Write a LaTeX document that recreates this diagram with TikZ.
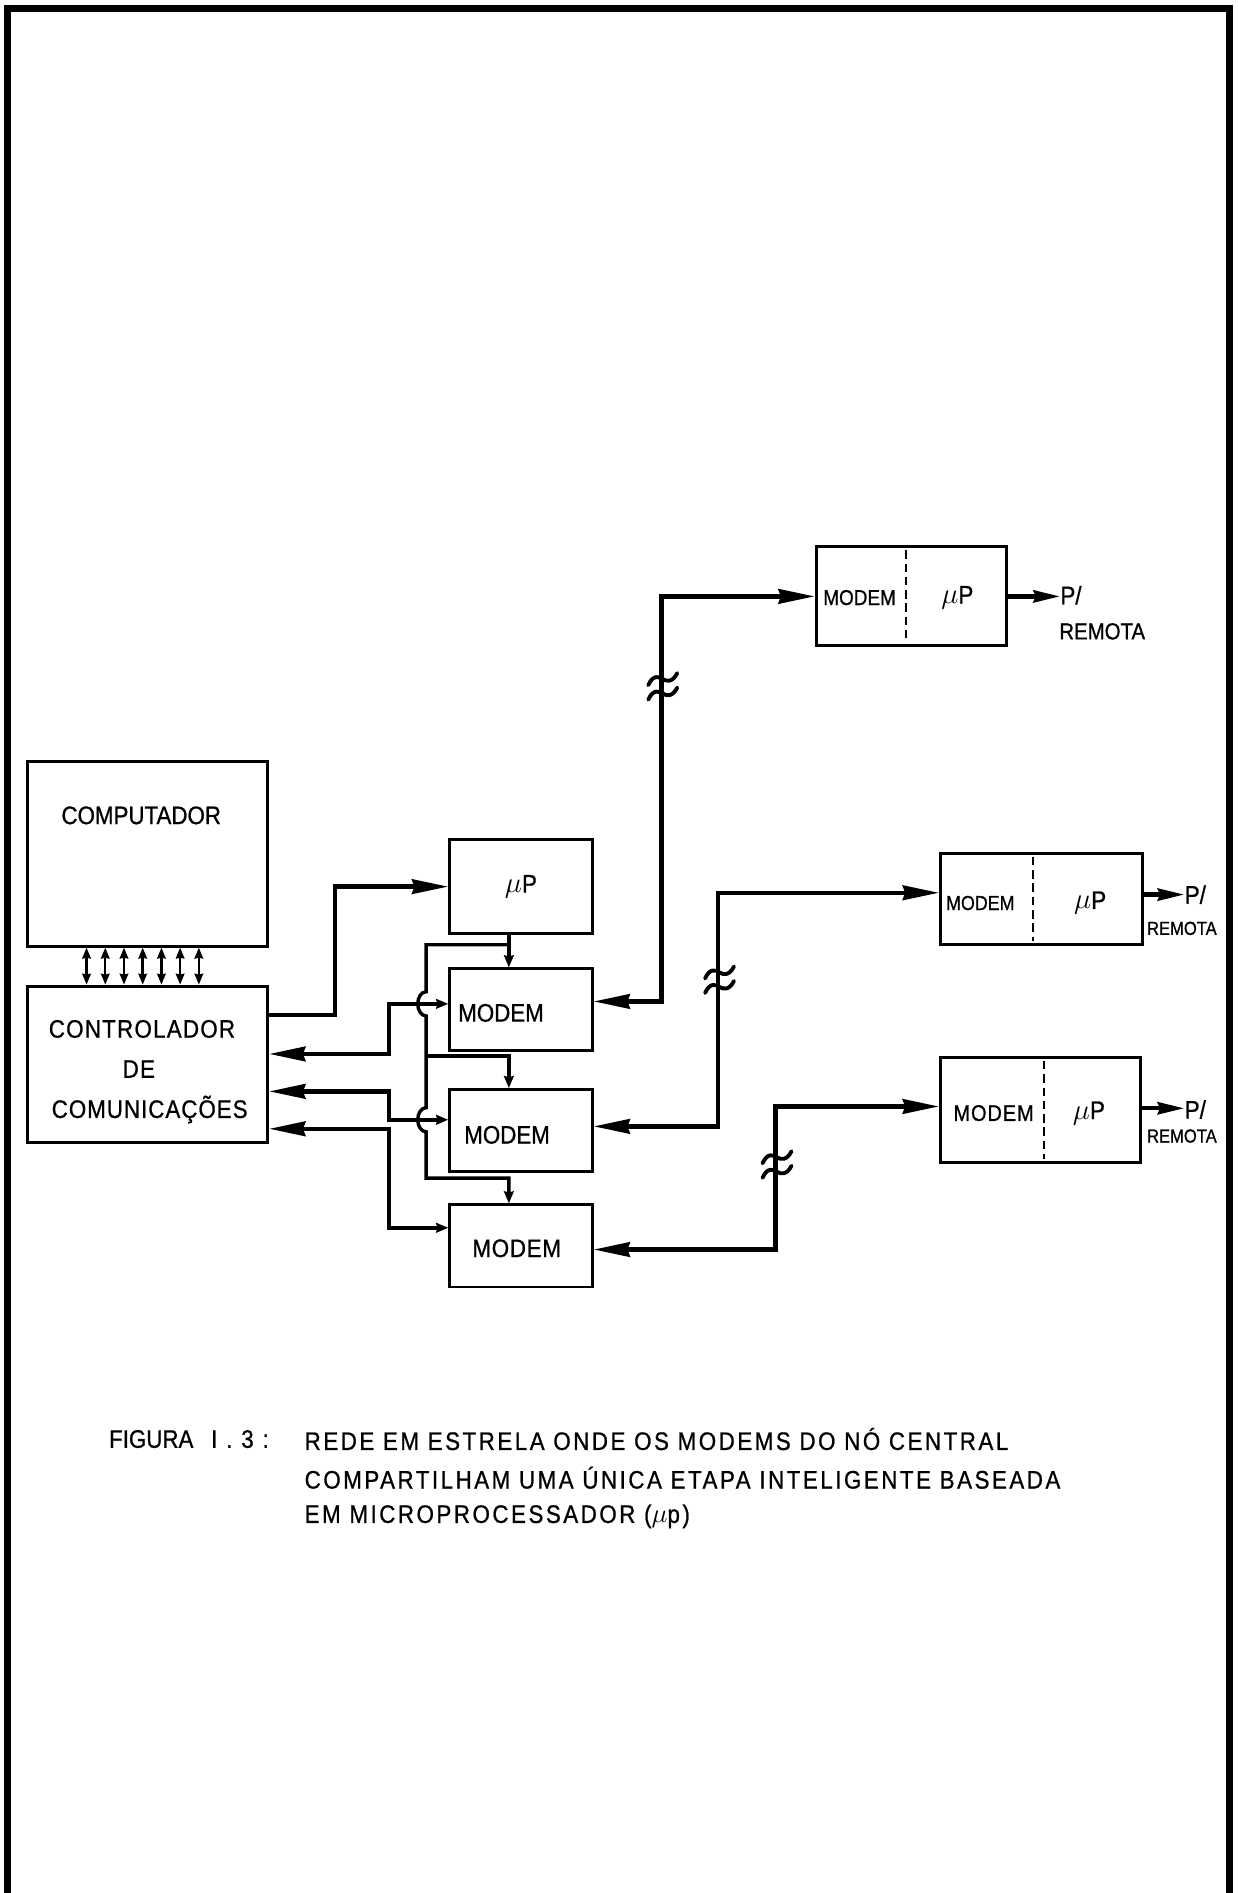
\documentclass[tikz,border=0pt]{standalone}
\usepackage{fontspec}
\setmainfont{Liberation Sans}[FakeStretch=0.88, FakeBold=0.8]
\usetikzlibrary{arrows.meta, calc, positioning}

\tikzset{
  box/.style={draw, line width=1.2pt, inner sep=0pt},
  lbl/.style={font=\fontsize{10.5}{12}\selectfont, inner sep=0pt},
  spaced/.style={font=\fontsize{10.5}{12}\selectfont\addfontfeatures{LetterSpace=5}, inner sep=0pt},
  captxt/.style={font=\fontsize{10.5}{12}\selectfont\addfontfeatures{LetterSpace=10}, inner sep=0pt},
  wire/.style={line width=1.8pt},
  thinwire/.style={line width=1.4pt},
  bigtip/.tip={Stealth[length=15pt, width=6pt, inset=1pt]},
  midtip/.tip={Stealth[length=11pt, width=5pt, inset=1pt]},
  smalltip/.tip={Stealth[length=5pt, width=4pt, inset=0.5pt]},
  tinytip/.tip={Stealth[length=4.5pt, width=3.5pt, inset=0.3pt]},
  brk/.pic={
    \foreach \dy in {-6,6}
      \draw[line width=1.6pt, line cap=round]
        (-12,5+\dy) .. controls (-8,-4+\dy) and (-3,-2+\dy) .. (0,\dy)
        .. controls (3,2+\dy) and (8,3+\dy) .. (12,-5+\dy);
  }
}
\newcommand{\upsym}{{\fontsize{13}{13}\selectfont$\mu$}P}

\begin{document}
\begin{tikzpicture}[x=0.5pt, y=-0.5pt, font=\fontsize{10.5}{12}\selectfont]
  \useasboundingbox (0,0) rectangle (1025,1568);
  % frame
  \draw[line width=3pt] (6,1570) -- (6,7) -- (1018.5,7) -- (1018.5,1570);

  % central node
  \node[box, minimum width=99.4pt, minimum height=76.6pt] (comp) at (122.3,707.1) {};
  \node[lbl] (compt) at (117,675.4) {COMPUTADOR};
  \node[box, minimum width=99.4pt, minimum height=64.8pt] (ctrl) at (122.3,881.6) {};
  \node[spaced] (ctrlA) at (117.6,852.3) {CONTROLADOR};
  \node[spaced] (ctrlB) at (115,885.5) {DE};
  \node[spaced] (ctrlC) at (124,919) {\addfontfeatures{LetterSpace=4}COMUNICAÇÕES};
  \foreach \i in {0,...,6}
    \draw[line width=1pt, tinytip-tinytip]
      ($(comp.south west)+(50+15.5*\i,0)$) -- ($(ctrl.north west)+(50+15.5*\i,0)$);

  % shared uP and modems
  \node[box, minimum width=59pt, minimum height=38.9pt] (up) at (431.5,734.4) {\upsym};
  \node[box, minimum width=59pt, minimum height=34pt] (mA) at (431.5,836.5) {};
  \node[box, minimum width=59pt, minimum height=34pt] (mB) at (431.5,936.5) {};
  \node[box, minimum width=59pt, minimum height=34pt] (mC) at (431.5,1032) {};
  \node[lbl] (mAt) at (415,839) {MODEM};
  \node[lbl] (mBt) at (420,940) {MODEM};
  \node[lbl] (mCt) at (428,1034) {\addfontfeatures{LetterSpace=3}MODEM};

  % remote sites
  \node[box, minimum width=78.75pt, minimum height=41pt] (rA) at (754.8,494) {};
  \node[box, minimum width=83.5pt, minimum height=37.5pt] (rB) at (862.5,744.5) {};
  \node[box, minimum width=83pt, minimum height=43.5pt] (rC) at (862,919.5) {};
  \draw[dashed, line width=1pt, dash pattern=on 3.5pt off 2pt]
    ($(rA.north west)+(75.5,4)$) -- ($(rA.south west)+(75.5,-4)$);
  \draw[dashed, line width=1pt, dash pattern=on 3.5pt off 2pt]
    ($(rB.north west)+(78,4)$) -- ($(rB.south west)+(78,-4)$);
  \draw[dashed, line width=1pt, dash pattern=on 3.5pt off 2pt]
    ($(rC.north west)+(87,4)$) -- ($(rC.south west)+(87,-4)$);
  \node[lbl, font=\fontsize{8.9}{10}\selectfont] (rAm) at (712,495) {MODEM};
  \node[lbl] (rAu) at (793,495) {\upsym};
  \node[lbl, font=\fontsize{8.4}{10}\selectfont] (rBm) at (812,748) {MODEM};
  \node[lbl] (rBu) at (903,748) {\upsym};
  \node[lbl, font=\fontsize{9.4}{10}\selectfont] (rCm) at (823,922) {\addfontfeatures{LetterSpace=4}MODEM};
  \node[lbl] (rCu) at (902,922) {\upsym};

  \node[lbl, anchor=west] (pA) at (878,493) {P/};
  \node[lbl, font=\fontsize{9.6}{10}\selectfont] (qA) at (913,523) {REMOTA};
  \node[lbl, anchor=west] (pB) at (981,741) {P/};
  \node[lbl, font=\fontsize{7.8}{9}\selectfont] (qB) at (979,769) {REMOTA};
  \node[lbl, anchor=west] (pC) at (981,919) {P/};
  \node[lbl, font=\fontsize{7.8}{9}\selectfont] (qC) at (979,941) {REMOTA};
  \draw[wire, -midtip] (rA.east) -- (rA.east -| pA.west);
  \draw[wire, -midtip] ($(rB.east)+(0,-3.5)$) -- ($(rB.east -| pB.west)+(0,-3.5)$);
  \draw[wire, -midtip] ($(rC.east)+(0,-1.5)$) -- ($(rC.east -| pC.west)+(0,-1.5)$);

  % controller to uP
  \draw[wire, -bigtip] ($(ctrl.east)+(0,-41)$) -| ($(up.west)+(-94,0)$) -- (up.west);
  \draw[thinwire, -smalltip] ($(up.south)+(-10,0)$) -- ($(mA.north)+(-10,0)$);
  \coordinate (bus) at ($(up.south)+(-78.5,8)$);
  \draw[thinwire, -smalltip] ($(up.south)+(-10,8)$) -- (bus)
    -- ($(bus |- mA.west)+(0,-15)$) arc[start angle=90, end angle=270, x radius=3.5pt, y radius=5pt]
    -- ($(bus |- mB.west)+(0,-19)$) arc[start angle=90, end angle=270, x radius=3.5pt, y radius=5pt]
    -- ($(bus |- mC.north)+(0,-21)$) -| ($(mC.north)+(-10,0)$);
  \draw[thinwire, -smalltip] ($(bus |- mB.north)+(0,-26.5)$) -| ($(mB.north)+(-10,0)$);

  % controller to modems
  \draw[wire, bigtip-smalltip] ($(ctrl.east)+(0,-8.6)$) -| ($(mA.west)+(-49,-5)$) -- ($(mA.west)+(0,-5)$);
  \draw[wire, bigtip-smalltip] ($(ctrl.east)+(0,22.4)$) -| ($(mB.west)+(-49,-9)$) -- ($(mB.west)+(0,-9)$);
  \draw[wire, bigtip-smalltip] ($(ctrl.east)+(0,53.4)$) -| ($(mC.west)+(-49,-15)$) -- ($(mC.west)+(0,-15)$);

  % lines to remote sites
  \draw[wire, bigtip-bigtip] ($(mA.east)+(0,-7)$) -| ($(rA.west)+(-127,0)$) -- (rA.west);
  \draw[wire, bigtip-bigtip] ($(mB.east)+(0,-3.5)$) -| ($(rB.west)+(-183,-5)$) -- ($(rB.west)+(0,-5)$);
  \draw[wire, bigtip-bigtip] ($(mC.east)+(0,3)$) -| ($(rC.west)+(-135.4,-3)$) -- ($(rC.west)+(0,-3)$);
  \pic at (549,568.5) {brk};
  \pic at (596,811.5) {brk};
  \pic at (643.6,964.6) {brk};

  % caption
  \node[lbl, anchor=west] (fig) at (90,1192) {FIGURA\hspace{0.7em}\addfontfeatures{LetterSpace=35}I.3:};
  \node[captxt, anchor=west] (capA) at (252,1192) {REDE EM ESTRELA ONDE OS MODEMS DO NÓ CENTRAL};
  \node[captxt, anchor=west] (capB) at (252,1224) {COMPARTILHAM UMA ÚNICA ETAPA INTELIGENTE BASEADA};
  \node[captxt, anchor=west] (capC) at (252,1256) {EM MICROPROCESSADOR ($\mu$p)};
\end{tikzpicture}
\end{document}
